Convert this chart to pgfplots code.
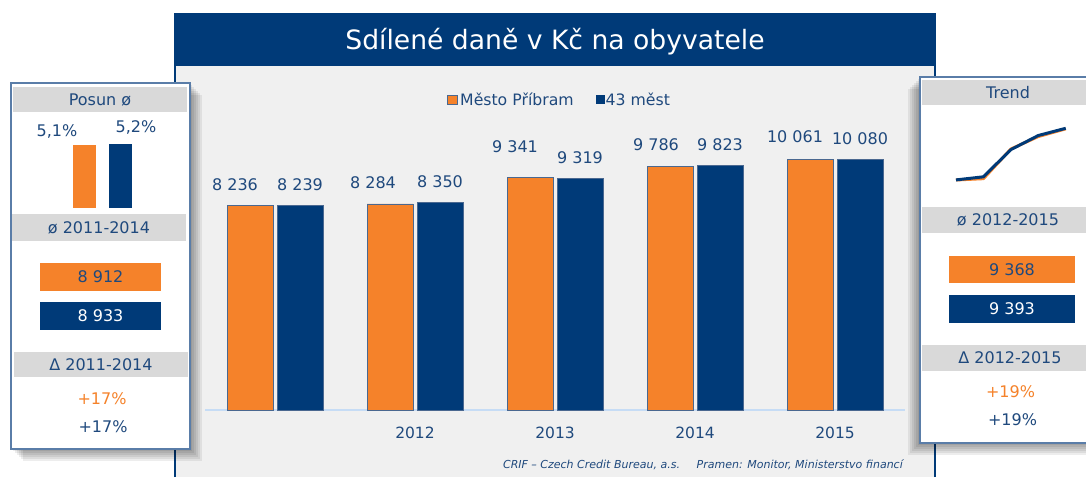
\documentclass[border=0pt]{standalone}
\usepackage{fontspec}
\setmainfont{DejaVu Sans}
\usepackage{pgfplots}
\pgfplotsset{compat=1.18}
\definecolor{dblue}{HTML}{003A78}
\definecolor{orng}{HTML}{F5822A}
\definecolor{tblue}{HTML}{1F497D}
\definecolor{bandgray}{HTML}{D9D9D9}
\definecolor{panelbg}{HTML}{F0F0F0}
\definecolor{pborder}{HTML}{5A7DA8}
\definecolor{axblue}{HTML}{C6DCF5}
\definecolor{barline}{HTML}{4A6890}
\tikzset{vc/.style={inner sep=0pt, text height=#1, text depth=0pt, anchor=center},
  f16/.style={vc=11.68pt, font=\fontsize{16}{18}\selectfont}}
\begin{document}
\begin{tikzpicture}
\useasboundingbox (0pt,0pt) rectangle (1086pt,477pt);
\begin{scope}[x=1pt,y=1pt]
\fill[white] (0,0) rectangle (1086,477);
% main panel
\fill[panelbg] (175,0) rectangle (935,411.3);
\fill[dblue] (175,411.3) rectangle (935,464.3);
\draw[dblue, line width=1.5pt] (175,0) -- (175,464.3);
\draw[dblue, line width=1.5pt] (935,0) -- (935,464.3);
\node[vc=19.4pt, text=white, font=\fontsize{26.6}{30}\selectfont] at (555,436.7) {Sdílené daně v Kč na obyvatele};
% legend
\filldraw[fill=orng, draw=barline, line width=0.8pt] (447.8,372.7) rectangle (457,382);
\node[vc=11.46pt, anchor=west, text=tblue, font=\fontsize{15.7}{18}\selectfont] at (460,377) {Město Příbram};
\fill[dblue] (596,373) rectangle (604.5,381.5);
\node[vc=11.46pt, anchor=west, text=tblue, font=\fontsize{15.7}{18}\selectfont] at (605.5,377) {43 měst};
% footer
\node[vc=8.02pt, anchor=east, text=tblue, font=\fontsize{11}{13}\selectfont\itshape] at (903,12.7) {CRIF – Czech Credit Bureau, a.s.\hspace{16.7pt}Pramen: Monitor, Ministerstvo financí};
% left panel
\foreach \d in {2,4,...,12} \fill[black, opacity=0.07] (11+\d,28-\d) rectangle (190+\d,394-\d);
\filldraw[fill=white, draw=pborder, line width=1.5pt] (11,28) rectangle (190,394);
\fill[bandgray] (13,365) rectangle (187,390);
\node[f16,text=tblue] at (100,377) {Posun ø};
\fill[bandgray] (12,236) rectangle (186,263);
\node[f16,text=tblue] at (99,249) {ø 2011-2014};
\fill[orng] (40,186) rectangle (161,214);
\node[f16,text=tblue] at (100.5,200) {8 912};
\fill[dblue] (40,147) rectangle (161,175);
\node[f16,text=white] at (100.5,161) {8 933};
\fill[bandgray] (14,100) rectangle (188,125);
\node[f16,text=tblue] at (101,112.5) {Δ 2011-2014};
\node[f16,text=orng] at (102,78) {+17\%};
\node[f16,text=tblue] at (103,50) {+17\%};
% right panel
\foreach \d in {2,4,...,12} \fill[black, opacity=0.07] (920-\d,34-\d) rectangle (1100-\d,400-\d);
\filldraw[fill=white, draw=pborder, line width=1.5pt] (920,34) rectangle (1100,400);
\fill[bandgray] (922,372) rectangle (1098,397);
\node[f16,text=tblue] at (1008,384) {Trend};
\fill[bandgray] (922,244) rectangle (1098,270);
\node[f16,text=tblue] at (1008,257) {ø 2012-2015};
\fill[orng] (949,194) rectangle (1075,221);
\node[f16,text=tblue] at (1012,207.5) {9 368};
\fill[dblue] (949,154) rectangle (1075,182);
\node[f16,text=white] at (1012,168) {9 393};
\fill[bandgray] (922,106) rectangle (1098,132);
\node[f16,text=tblue] at (1010,119) {Δ 2012-2015};
\node[f16,text=orng] at (1010.5,85) {+19\%};
\node[f16,text=tblue] at (1012.5,57) {+19\%};
\end{scope}
% main chart
\begin{axis}[at={(205pt,67pt)}, anchor=south west, scale only axis,
  width=700pt, height=250.7pt, xmin=-0.5, xmax=4.5, ymin=0, ymax=10080, clip=false,
  axis x line*=bottom, axis y line=none,
  x axis line style={-, draw=axblue, line width=1.5pt},
  xtick={1,2,3,4}, xticklabels={2012,2013,2014,2015}, ytick=\empty,
  major tick length=0pt,
  xticklabel style={inner sep=0pt, anchor=north, yshift=-16.4pt, text=tblue, font=\fontsize{15.5}{17}\selectfont}]
\addplot[ybar, bar width=46pt, bar shift=-25pt, fill=orng, draw=barline, line width=0.6pt,
  point meta=explicit symbolic, nodes near coords,
  nodes near coords style={anchor=base, inner sep=0pt, xshift=-40pt, yshift=15pt, text=tblue, font=\fontsize{16}{18}\selectfont}]
  coordinates {(0,8236)[8 236] (1,8284)[\hspace*{-4pt}8 284] (2,9341)[\raisebox{10pt}{9 341}] (3,9786)[\raisebox{1.3pt}{\hspace*{2pt}9 786}] (4,10061)[\raisebox{2.3pt}{10 061}]};
\addplot[ybar, bar width=46pt, bar shift=25pt, fill=dblue, draw=barline, line width=0.6pt,
  point meta=explicit symbolic, nodes near coords,
  nodes near coords style={anchor=base, inner sep=0pt, xshift=25pt, yshift=14.9pt, text=tblue, font=\fontsize{16}{18}\selectfont}]
  coordinates {(0,8239)[8 239] (1,8350)[8 350] (2,9319)[9 319] (3,9823)[9 823] (4,10080)[10 080]};
\end{axis}
% mini bars
\begin{axis}[at={(84.4pt,269.3pt)}, anchor=south west, scale only axis,
  width=36.1pt, height=63.7pt, xmin=0, xmax=1, ymin=0, ymax=5.2, hide axis, clip=false]
\addplot[ybar, bar width=23pt, bar shift=0pt, fill=orng, draw=none,
  point meta=explicit symbolic, nodes near coords,
  nodes near coords style={anchor=base, inner sep=0pt, xshift=-27.4pt, yshift=9.2pt, text=tblue, font=\fontsize{16}{18}\selectfont}]
  coordinates {(0,5.1)[5,1\%]};
\addplot[ybar, bar width=23pt, bar shift=0pt, fill=dblue, draw=none,
  point meta=explicit symbolic, nodes near coords,
  nodes near coords style={anchor=base, inner sep=0pt, xshift=15.5pt, yshift=11.5pt, text=tblue, font=\fontsize{16}{18}\selectfont}]
  coordinates {(1,5.2)[5,2\%]};
\end{axis}
% trend
\begin{axis}[at={(956pt,297pt)}, anchor=south west, scale only axis,
  width=109.7pt, height=51.7pt, xmin=0, xmax=4, ymin=8236, ymax=10080, hide axis, clip=false]
\addplot[orng, line width=3pt, line join=round, mark=none] coordinates {(0,8236) (1,8284) (2,9341) (3,9786) (4,10061)};
\addplot[dblue, line width=3pt, line join=round, mark=none] coordinates {(0,8239) (1,8350) (2,9319) (3,9823) (4,10080)};
\end{axis}
\end{tikzpicture}
\end{document}
